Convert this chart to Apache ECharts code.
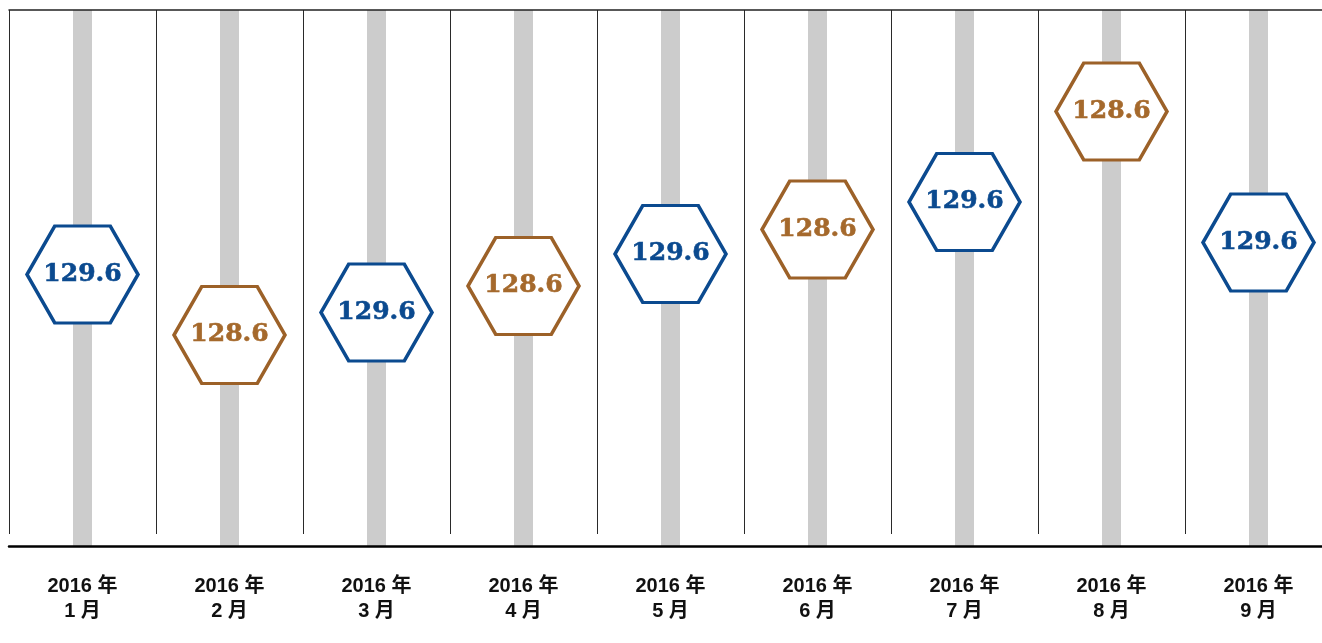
<!DOCTYPE html>
<html>
<head>
<meta charset="utf-8">
<script src="https://cdn.jsdelivr.net/npm/echarts@6/dist/echarts.min.js"></script>
<style>
  html, body { margin: 0; padding: 0; background: #ffffff; }
  #chart { width: 1322px; height: 643px; }
</style>
</head>
<body>
<div id="chart"></div>
<script>
// Monthly categories shown along the bottom axis
const categories = [
  '2016 年\n1 月', '2016 年\n2 月', '2016 年\n3 月',
  '2016 年\n4 月', '2016 年\n5 月', '2016 年\n6 月',
  '2016 年\n7 月', '2016 年\n8 月', '2016 年\n9 月'
];

// Vertical level of each hexagon marker (0–100 scale of the plot height)
const heights = [50.65, 39.37, 43.56, 48.51, 54.48, 59.05, 64.18, 81.06, 56.62];

// Reading printed inside each hexagon
const readings = ['129.6', '128.6', '129.6', '128.6', '129.6', '128.6', '129.6', '128.6', '129.6'];

// Full-height grey track behind each marker
const trackTop = [100, 100, 100, 100, 100, 100, 100, 100, 100];

const BLUE = '#0b4a8f';
const BROWN = '#9c6128';
const BROWN_TEXT = '#a5692c';

const hexPath = 'path://M0,43.3L25,0L75,0L100,43.3L75,86.6L25,86.6Z';

const markers = heights.map((h, i) => {
  const isBlue = readings[i] === '129.6';
  const ink = isBlue ? BLUE : BROWN_TEXT;
  return {
    value: h,
    itemStyle: { borderColor: isBlue ? BLUE : BROWN },
    label: { formatter: readings[i], color: ink, textBorderColor: ink }
  };
});

const chart = echarts.init(document.getElementById('chart'), null, { renderer: 'canvas' });

// The last column runs a little past the right edge of the page
chart.setOption({
  animation: false,
  backgroundColor: '#ffffff',
  grid: [
    { left: 9, width: 1323, top: 10, height: 536, outerBoundsMode: 'none', containLabel: false },
    { left: 9, width: 1323, top: 10, height: 524, outerBoundsMode: 'none', containLabel: false }
  ],
  xAxis: [
    {
      type: 'category',
      gridIndex: 0,
      data: categories,
      z: 5,
      axisLine: { show: true, onZero: false, lineStyle: { color: '#000000', width: 2.5 } },
      axisTick: { show: false },
      splitLine: { show: false },
      axisLabel: {
        interval: 0,
        margin: 28,
        fontSize: 20,
        lineHeight: 25,
        fontWeight: 'bold',
        color: '#111111',
        fontFamily: '"Liberation Sans", "Noto Sans CJK SC", sans-serif'
      }
    },
    {
      type: 'category',
      gridIndex: 1,
      data: categories,
      position: 'top',
      z: 5,
      axisLine: { show: true, onZero: false, lineStyle: { color: '#222222', width: 1.5 } },
      axisTick: { show: false },
      axisLabel: { show: false },
      splitLine: { show: true, interval: 0, lineStyle: { color: '#2a2a2a', width: 1 } }
    }
  ],
  yAxis: [
    { type: 'value', gridIndex: 0, min: 0, max: 100, show: false },
    { type: 'value', gridIndex: 1, min: 0, max: 100, show: false }
  ],
  series: [
    {
      type: 'bar',
      xAxisIndex: 0,
      yAxisIndex: 0,
      data: trackTop,
      barWidth: 19,
      itemStyle: { color: '#cccccc' },
      silent: true
    },
    {
      type: 'scatter',
      xAxisIndex: 0,
      yAxisIndex: 0,
      z: 4,
      data: markers,
      symbol: hexPath,
      symbolSize: [111, 97],
      itemStyle: { color: '#ffffff', borderWidth: 3.4, opacity: 1 },
      label: {
        show: true,
        position: 'inside',
        fontFamily: '"DejaVu Serif", serif',
        fontWeight: 'bold',
        fontSize: 25,
        textBorderWidth: 0.6
      }
    }
  ]
});
</script>
</body>
</html>
